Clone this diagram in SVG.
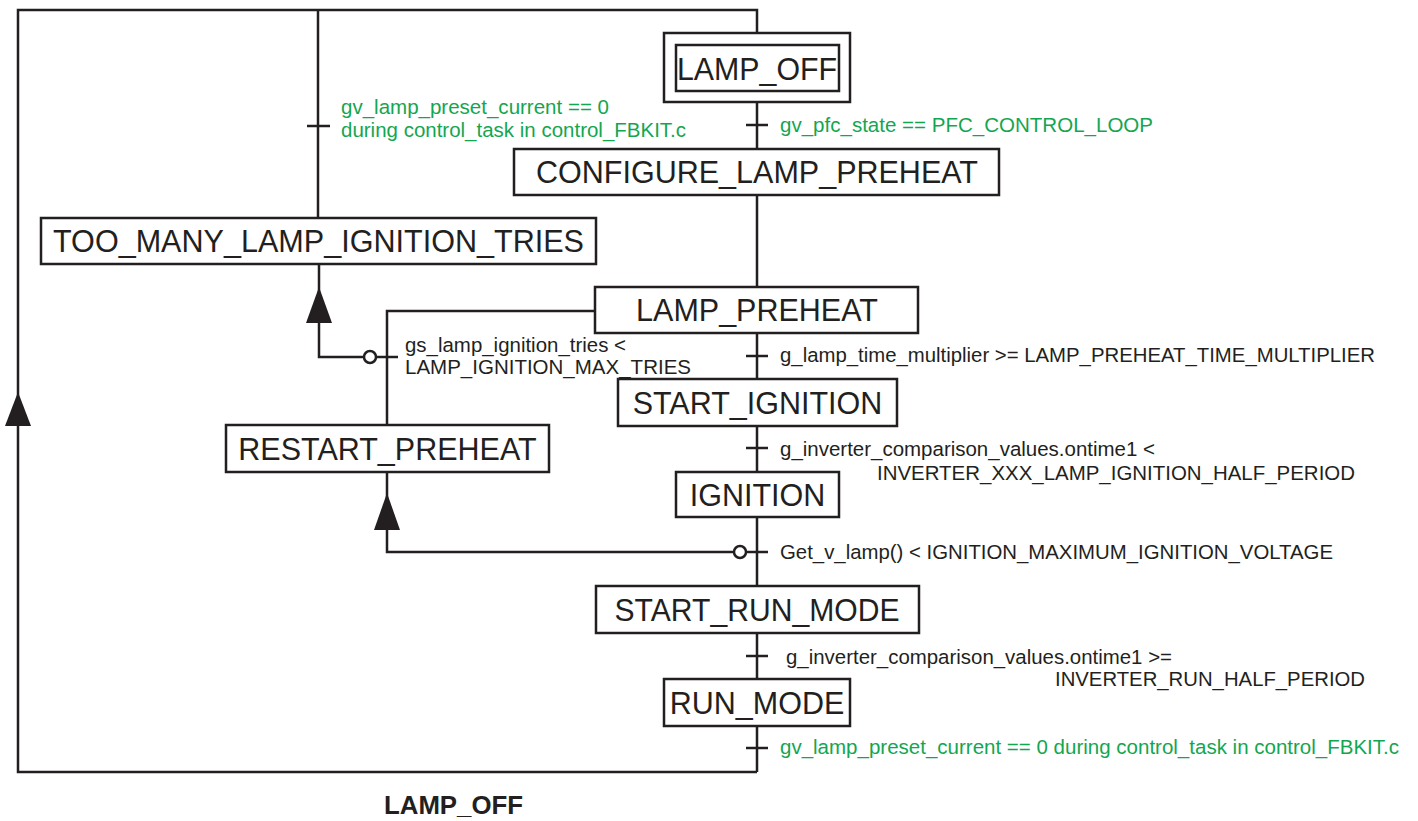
<svg xmlns="http://www.w3.org/2000/svg" width="1418" height="821" viewBox="0 0 1418 821">
<style>
.ln{stroke:#231f20;stroke-width:2.5;fill:none}
.bx{stroke:#231f20;stroke-width:2.5;fill:#fff}
.lb{font-family:"Liberation Sans",Arial,sans-serif;font-size:30.5px;fill:#231f20;text-anchor:middle}
.t{font-family:"Liberation Sans",Arial,sans-serif;font-size:20.5px;fill:#231f20}
.g{fill:#13a651}
.ah{fill:#231f20;stroke:none}
.cr{fill:#fff;stroke:#231f20;stroke-width:2.5}
.bt{font-family:"Liberation Sans",Arial,sans-serif;font-size:25px;font-weight:bold;fill:#231f20}
</style>
<rect width="1418" height="821" fill="#fff"/>
<g id="connectors">
<polyline class="ln" points="757,772 18,772 18,10 757,10 757,772"/>
<polygon class="ah" points="18,392 5,426 31,426"/>
<line class="ln" x1="318" y1="10" x2="318" y2="218"/>
<line class="ln" x1="307" y1="126" x2="330" y2="126"/>
<polyline class="ln" points="364,357 319,357 319,264"/>
<polygon class="ah" points="319,287 306,323 332,323"/>
<circle class="cr" cx="370" cy="357" r="6"/>
<line class="ln" x1="376" y1="357" x2="398" y2="357"/>
<polyline class="ln" points="595,311 387,311 387,425"/>
<polyline class="ln" points="734,552 387,552 387,472"/>
<polygon class="ah" points="387,493 374,530 400,530"/>
<circle class="cr" cx="740" cy="552" r="6"/>
<line class="ln" x1="746" y1="552" x2="768" y2="552"/>
<line class="ln" x1="746" y1="125" x2="768" y2="125"/>
<line class="ln" x1="746" y1="356" x2="768" y2="356"/>
<line class="ln" x1="746" y1="448" x2="768" y2="448"/>
<line class="ln" x1="746" y1="656" x2="768" y2="656"/>
<line class="ln" x1="746" y1="748" x2="768" y2="748"/>
</g>
<g id="LAMP_OFF">
<rect class="bx" x="664" y="33" width="186" height="69"/>
<rect class="bx" x="676" y="45" width="163" height="46"/>
<text class="lb" x="757" y="80" textLength="160" lengthAdjust="spacingAndGlyphs">LAMP_OFF</text>
</g>
<g id="CONFIGURE_LAMP_PREHEAT">
<rect class="bx" x="514" y="149" width="485" height="46"/>
<text class="lb" x="757" y="183" textLength="442" lengthAdjust="spacingAndGlyphs">CONFIGURE_LAMP_PREHEAT</text>
</g>
<g id="TOO_MANY_LAMP_IGNITION_TRIES">
<rect class="bx" x="41" y="218" width="555" height="46"/>
<text class="lb" x="318.5" y="252" textLength="531" lengthAdjust="spacingAndGlyphs">TOO_MANY_LAMP_IGNITION_TRIES</text>
</g>
<g id="LAMP_PREHEAT">
<rect class="bx" x="595" y="287" width="323" height="46"/>
<text class="lb" x="757" y="321">LAMP_PREHEAT</text>
</g>
<g id="START_IGNITION">
<rect class="bx" x="618" y="379" width="279" height="47"/>
<text class="lb" x="757.5" y="414">START_IGNITION</text>
</g>
<g id="RESTART_PREHEAT">
<rect class="bx" x="226" y="425" width="323" height="47"/>
<text class="lb" x="387.5" y="460">RESTART_PREHEAT</text>
</g>
<g id="IGNITION">
<rect class="bx" x="676" y="472" width="163" height="45"/>
<text class="lb" x="757.5" y="506">IGNITION</text>
</g>
<g id="START_RUN_MODE">
<rect class="bx" x="596" y="586" width="323" height="47"/>
<text class="lb" x="757" y="621" textLength="285" lengthAdjust="spacingAndGlyphs">START_RUN_MODE</text>
</g>
<g id="RUN_MODE">
<rect class="bx" x="664" y="679" width="186" height="47"/>
<text class="lb" x="757" y="714">RUN_MODE</text>
</g>
<g id="labels">
<text class="t g" x="341" y="114" textLength="268" lengthAdjust="spacingAndGlyphs">gv_lamp_preset_current == 0</text>
<text class="t g" x="341" y="137" textLength="345" lengthAdjust="spacingAndGlyphs">during control_task in control_FBKIT.c</text>
<text class="t g" x="780" y="132" textLength="373" lengthAdjust="spacingAndGlyphs">gv_pfc_state == PFC_CONTROL_LOOP</text>
<text class="t" x="405" y="352" textLength="221" lengthAdjust="spacingAndGlyphs">gs_lamp_ignition_tries &lt;</text>
<text class="t" x="405" y="374" textLength="286" lengthAdjust="spacingAndGlyphs">LAMP_IGNITION_MAX_TRIES</text>
<text class="t" x="780" y="362" textLength="595" lengthAdjust="spacingAndGlyphs">g_lamp_time_multiplier &gt;= LAMP_PREHEAT_TIME_MULTIPLIER</text>
<text class="t" x="780" y="456" textLength="375" lengthAdjust="spacingAndGlyphs">g_inverter_comparison_values.ontime1 &lt;</text>
<text class="t" x="877" y="480" textLength="478" lengthAdjust="spacingAndGlyphs">INVERTER_XXX_LAMP_IGNITION_HALF_PERIOD</text>
<text class="t" x="780" y="559" textLength="553" lengthAdjust="spacingAndGlyphs">Get_v_lamp() &lt; IGNITION_MAXIMUM_IGNITION_VOLTAGE</text>
<text class="t" x="786" y="664" textLength="386" lengthAdjust="spacingAndGlyphs">g_inverter_comparison_values.ontime1 &gt;=</text>
<text class="t" x="1055" y="686" textLength="310" lengthAdjust="spacingAndGlyphs">INVERTER_RUN_HALF_PERIOD</text>
<text class="t g" x="780" y="754" textLength="619" lengthAdjust="spacingAndGlyphs">gv_lamp_preset_current == 0 during control_task in control_FBKIT.c</text>
<text class="bt" x="384" y="814" textLength="139" lengthAdjust="spacingAndGlyphs">LAMP_OFF</text>
</g>
</svg>
